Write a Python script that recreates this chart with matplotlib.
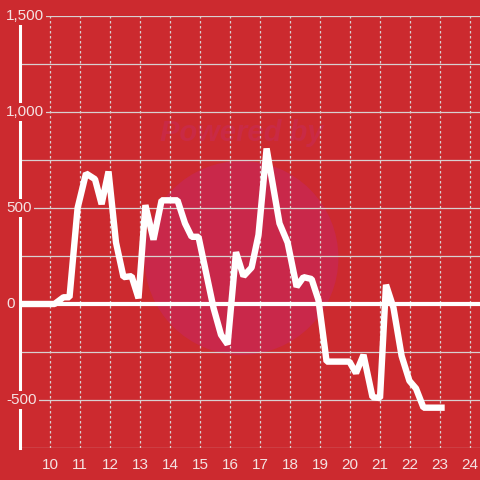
import matplotlib
matplotlib.use("Agg")
import matplotlib.pyplot as plt
from matplotlib.patches import Ellipse

plt.rcParams['font.family'] = ['Liberation Sans', 'DejaVu Sans']

# hour of day vs value
hours = [9.0, 10.15, 10.45, 10.65, 10.92, 11.2, 11.5, 11.72, 11.95, 12.2,
         12.45, 12.72, 12.95, 13.18, 13.45, 13.72, 14.25, 14.5, 14.72, 14.95,
         15.45, 15.7, 15.92, 16.2, 16.45, 16.72, 16.95, 17.22, 17.65, 17.92,
         18.22, 18.45, 18.72, 18.95, 19.22, 19.98, 20.2, 20.45, 20.75, 21.0,
         21.2, 21.45, 21.72, 21.98, 22.2, 22.45, 23.05]
values = [0, 0, 35, 35, 500, 680, 650, 520, 690, 320,
          140, 145, 30, 515, 335, 540, 540, 420, 350, 350,
          -20, -160, -210, 270, 145, 190, 360, 810, 420, 320,
          90, 140, 130, 20, -300, -300, -360, -265, -485, -490,
          100, -20, -270, -400, -440, -540, -540]

x_ticks = list(range(10, 25))
y_ticks = [1500, 1000, 500, 0, -500]
y_labels = ['1,500', '1,000', '500', '0', '-500']

bg = '#cc2a2f'
grid_col = '#d8d0d0'
text_col = '#f4e2e2'

fig = plt.figure(figsize=(4.8, 4.8), dpi=100, facecolor=bg)
ax = fig.add_axes([20 / 480, 32 / 480, 460 / 480, 432 / 480])
ax.set_facecolor(bg)
ax.set_xlim(9, 9 + 460 / 30)
ax.set_ylim(-750, 1500)

# watermark
ax.add_patch(Ellipse((16.38, 240), 2 * 97 / 30, 2 * 97 * 500 / 96,
                     facecolor='#c9284a', edgecolor='none', zorder=0))
ax.text(16.4, 890, 'Powered by', ha='center', va='center', fontsize=21,
        fontweight='bold', fontstyle='italic', color='#c92a45', zorder=0.5)

for v in range(-750, 1501, 250):
    ax.axhline(v, color=grid_col, lw=0.9, zorder=1)
for t in x_ticks:
    ax.axvline(t, color=grid_col, lw=0.9, ls=(0, (2, 2)), zorder=1)

ax.axhline(0, color='white', lw=3, zorder=2)
ax.plot(hours, values, color='white', lw=4.6, solid_joinstyle='bevel',
        zorder=3)

for s in ['top', 'right', 'bottom']:
    ax.spines[s].set_visible(False)
ax.spines['left'].set_color('white')
ax.spines['left'].set_linewidth(2.2)
ax.spines['left'].set_zorder(4)

ax.set_xticks(x_ticks)
ax.set_xticklabels([str(t) for t in x_ticks])
ax.set_yticks([])
ax.tick_params(axis='x', length=0, pad=7, labelsize=11, labelcolor=text_col)

for v, lab in zip(y_ticks, y_labels):
    ax.text(-14 / 460, (v + 750) / 2250, lab, transform=ax.transAxes,
            ha='left', va='center', fontsize=11, color=text_col, zorder=5,
            bbox=dict(facecolor=bg, edgecolor='none', pad=1.5))

fig.savefig('out.png', dpi=100, facecolor=bg)
